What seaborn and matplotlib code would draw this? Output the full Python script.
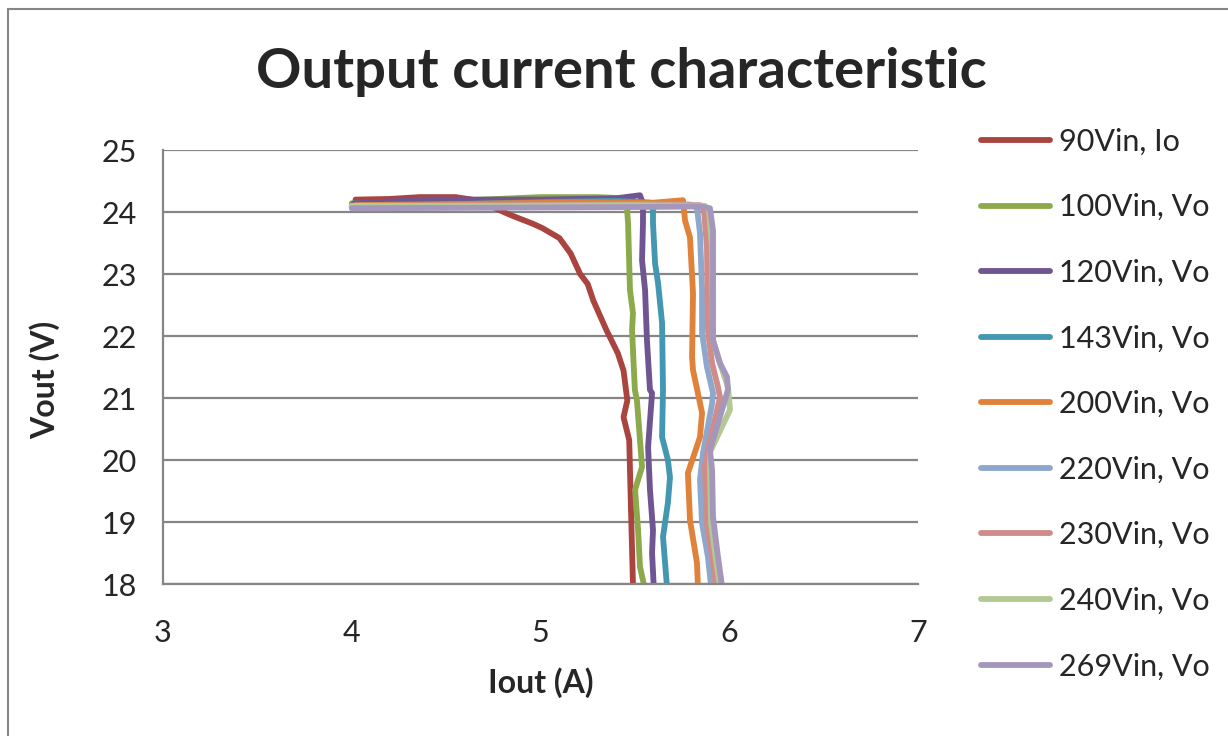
import pandas as pd
import matplotlib
matplotlib.use("Agg")
import matplotlib.pyplot as plt
import seaborn as sns
from matplotlib.patches import Rectangle

# series names and colours (Excel 2007 style palette)
names = ["90Vin, Io", "100Vin, Vo", "120Vin, Vo", "143Vin, Vo", "200Vin, Vo",
         "220Vin, Vo", "230Vin, Vo", "240Vin, Vo", "269Vin, Vo"]
colors = ["#A9443F", "#8CA94B", "#6F5591", "#4397B0", "#E0823A",
          "#8EA7CC", "#D08C8A", "#B3C993", "#A596BB"]

# Iout (A) / Vout (V)
i_90 = [4.02, 4.20, 4.36, 4.55, 4.68, 4.79, 4.85, 4.96, 5.01, 5.10, 5.16, 5.21, 5.25,
        5.28, 5.35, 5.41, 5.44, 5.46, 5.44, 5.47, 5.48, 5.49]
v_90 = [24.20, 24.21, 24.24, 24.24, 24.18, 24.02, 23.94, 23.81, 23.74, 23.58, 23.33, 23.00,
        22.84, 22.57, 22.09, 21.72, 21.44, 20.96, 20.69, 20.32, 19.14, 17.98]

i_100 = [4.00, 4.30, 4.70, 5.00, 5.30, 5.45, 5.458, 5.464, 5.474, 5.49, 5.485, 5.50,
         5.511, 5.538, 5.501, 5.517, 5.527, 5.55]
v_100 = [24.14, 24.16, 24.20, 24.24, 24.24, 24.22, 24.07, 23.82, 22.74, 22.37, 22.09, 21.13,
         20.96, 19.89, 19.52, 18.87, 18.28, 17.96]

i_120 = [4.01, 4.40, 5.00, 5.40, 5.527, 5.543, 5.543, 5.538, 5.554, 5.564, 5.58, 5.591,
         5.57, 5.58, 5.596, 5.591, 5.60]
v_120 = [24.14, 24.20, 24.20, 24.22, 24.27, 24.14, 23.82, 23.22, 22.74, 21.93, 21.13, 21.08,
         20.21, 19.52, 18.87, 18.50, 17.96]

i_143 = [4.01, 4.50, 5.00, 5.40, 5.58, 5.596, 5.596, 5.607, 5.623, 5.644, 5.649, 5.644,
         5.675, 5.686, 5.675, 5.649, 5.67]
v_143 = [24.07, 24.12, 24.16, 24.18, 24.15, 24.03, 23.82, 23.17, 22.85, 22.21, 21.13, 20.37,
         20.00, 19.72, 19.31, 18.76, 17.96]

i_200 = [4.02, 4.60, 5.20, 5.60, 5.755, 5.766, 5.792, 5.808, 5.803, 5.808, 5.856, 5.845,
         5.781, 5.792, 5.829, 5.834]
v_200 = [24.11, 24.13, 24.16, 24.15, 24.19, 23.86, 23.59, 22.69, 21.66, 21.45, 20.76, 20.37,
         19.79, 19.03, 18.34, 17.96]

i_220 = [4.00, 4.80, 5.50, 5.79, 5.829, 5.845, 5.856, 5.856, 5.882, 5.914, 5.909, 5.861,
         5.845, 5.856, 5.887, 5.904]
v_220 = [24.09, 24.10, 24.12, 24.12, 24.07, 23.66, 22.74, 22.05, 21.50, 21.08, 20.91, 20.11,
         19.68, 18.98, 18.44, 17.96]

i_230 = [4.00, 4.80, 5.50, 5.845, 5.866, 5.882, 5.887, 5.909, 5.94, 5.951, 5.887, 5.871,
         5.882, 5.914, 5.93]
v_230 = [24.10, 24.11, 24.12, 24.11, 24.03, 23.43, 22.09, 21.56, 21.18, 21.01, 20.16, 19.89,
         18.98, 18.34, 17.96]

i_240 = [4.00, 4.80, 5.50, 5.87, 5.893, 5.909, 5.914, 5.951, 5.993, 6.004, 5.898, 5.898,
         5.904, 5.93, 5.951]
v_240 = [24.10, 24.10, 24.11, 24.10, 24.03, 23.43, 21.93, 21.56, 21.18, 20.81, 20.13, 19.84,
         18.98, 18.39, 17.96]

i_269 = [4.00, 4.80, 5.50, 5.845, 5.898, 5.914, 5.914, 5.951, 5.988, 5.993, 5.898, 5.909,
         5.914, 5.94, 5.962]
v_269 = [24.06, 24.07, 24.08, 24.09, 24.06, 23.70, 21.93, 21.56, 21.34, 21.13, 20.16, 19.84,
         19.08, 18.44, 17.96]

iout = [i_90, i_100, i_120, i_143, i_200, i_220, i_230, i_240, i_269]
vout = [v_90, v_100, v_120, v_143, v_200, v_220, v_230, v_240, v_269]

rows = []
for name, xs, ys in zip(names, iout, vout):
    for k, (x, y) in enumerate(zip(xs, ys)):
        rows.append({"series": name, "step": k, "Iout": x, "Vout": y})
df = pd.DataFrame(rows)

sns.set_style("white")
plt.rcParams["font.family"] = ["Lato", "DejaVu Sans"]

W, H = 1228, 736
fig = plt.figure(figsize=(W / 100, H / 100), dpi=100)
ax = fig.add_axes([163 / W, 1 - 584 / H, (918 - 163) / W, (584 - 150) / H])

sns.lineplot(data=df, x="Iout", y="Vout", hue="series", hue_order=names,
             palette=dict(zip(names, colors)), sort=False, estimator=None,
             units="series", ax=ax)
for ln in ax.lines:
    ln.set_linewidth(4.2)
    ln.set_solid_joinstyle("round")
    ln.set_solid_capstyle("round")

ax.set_xlim(3, 7)
ax.set_ylim(18, 25)
ax.set_xticks([3, 4, 5, 6, 7])
ax.set_yticks(range(18, 26))
ax.tick_params(axis="both", length=0, labelsize=22)
ax.tick_params(axis="x", pad=25)
ax.tick_params(axis="y", pad=19)

ax.yaxis.grid(True, color="#868686", linewidth=1.6)
ax.xaxis.grid(False)
for s in ["top", "right"]:
    ax.spines[s].set_visible(False)
for s in ["left", "bottom"]:
    ax.spines[s].set_color("#868686")
    ax.spines[s].set_linewidth(1.6)

ax.set_xlabel("Iout (A)", fontsize=23, fontweight="bold", va="center")
ax.set_ylabel("Vout (V)", fontsize=23, fontweight="bold", va="center")
ax.xaxis.set_label_coords(0.5, -(683 - 584) / 434)
ax.yaxis.set_label_coords((45 - 163) / 755, 0.47)

fig.text(621 / W, 1 - 72 / H, "Output current characteristic",
         ha="center", va="center", fontsize=40.5, fontweight="bold")

handles, labels = ax.get_legend_handles_labels()
ax.legend(handles, labels, loc="center left", bbox_to_anchor=(966 / W, 1 - 404 / H),
          bbox_transform=fig.transFigure, frameon=False, fontsize=22,
          handlelength=2.25, handletextpad=0.3, labelspacing=1.23, borderpad=0)
for ln in ax.get_legend().get_lines():
    ln.set_linewidth(4.2)
    ln.set_solid_capstyle("round")

# outer chart frame
fig.patches.append(Rectangle((8 / W, -0.1), 1.2, 1 - 9 / H + 0.1, transform=fig.transFigure,
                             fill=False, edgecolor="#868686", linewidth=1.5))

fig.savefig("out.png", dpi=100)
